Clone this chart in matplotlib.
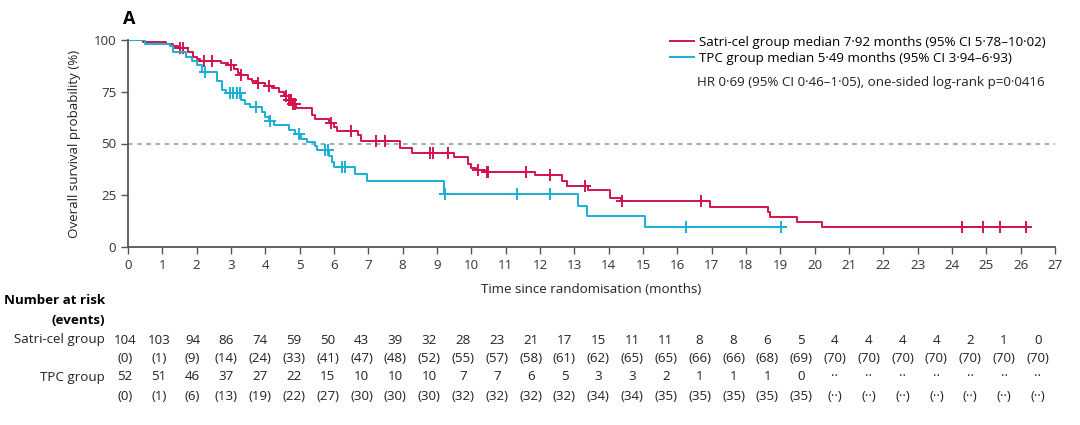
import numpy as np
import matplotlib
matplotlib.use('Agg')
import matplotlib.pyplot as plt
import matplotlib.transforms as mtransforms

plt.rcParams['font.family'] = ['Open Sans', 'DejaVu Sans']
FS = 9.6

# Satri-cel群 (赤)  生存曲線のステップ: (時間, その後の生存率)
sat_t = [0, 0.45, 1.1, 1.3, 1.45, 1.75, 1.9, 2.0, 2.1, 2.7, 2.9, 3.1, 3.2, 3.3, 3.5, 3.6, 3.75,
         4.0, 4.2, 4.4, 4.55, 4.7, 4.8, 4.9, 5.35, 5.45, 5.85, 6.0, 6.1, 6.7, 6.8, 7.92, 8.27,
         9.5, 9.9, 10.0, 10.15, 10.4, 11.86, 12.65, 12.8, 13.4, 14.04, 14.35, 16.95, 18.65,
         18.7, 19.5, 20.2]
sat_s = [100, 99, 98, 97, 96, 94, 92, 91, 90, 89, 88, 86, 84, 83, 81, 80, 79,
         78, 77, 75, 73, 71, 69, 67, 64, 62, 60, 58, 56, 54, 51, 48, 45.4,
         43.5, 40, 38, 37, 36.4, 35, 32, 29.5, 27.5, 23.8, 22.2, 19.5, 17,
         14.5, 12.1, 9.5]
sat_end = 26.2
sat_cens = [1.5, 1.6, 2.2, 2.45, 3.0, 3.3, 3.8, 4.1, 4.6, 4.7, 4.75, 4.8, 4.85, 5.9, 6.5,
            7.22, 7.5, 8.8, 8.88, 9.32, 10.2, 10.45, 10.5, 11.6, 12.3, 13.3, 14.4, 16.7,
            24.3, 24.9, 25.4, 26.15]

# TPC群 (青)
tpc_t = [0, 0.5, 1.22, 1.3, 1.7, 1.85, 2.0, 2.15, 2.6, 2.75, 2.85, 3.3, 3.4, 3.55, 3.9, 4.0,
         4.1, 4.25, 4.7, 4.85, 5.05, 5.2, 5.45, 5.5, 5.85, 5.95, 6.0, 6.6, 6.95, 9.2, 13.1,
         13.36, 15.06]
tpc_s = [100, 98, 97, 94.4, 92, 90, 88, 84.4, 80, 76, 74.2, 71, 69, 67.8, 65, 63,
         61, 59, 56.5, 54.5, 52, 50.9, 48.9, 46.9, 44, 41, 38.8, 35.3, 32, 25.6, 20,
         15, 9.8]
tpc_end = 19.1
tpc_cens = [2.24, 2.97, 3.06, 3.17, 3.26, 3.73, 4.14, 4.99, 5.74, 5.83, 6.22, 6.32, 9.23,
            11.32, 12.29, 16.24, 19.03]

# Number at risk (events)
sat_risk = ['104', '103', '94', '86', '74', '59', '50', '43', '39', '32', '28', '23', '21', '17',
            '15', '11', '11', '8', '8', '6', '5', '4', '4', '4', '4', '2', '1', '0']
sat_events = ['(0)', '(1)', '(9)', '(14)', '(24)', '(33)', '(41)', '(47)', '(48)', '(52)', '(55)',
              '(57)', '(58)', '(61)', '(62)', '(65)', '(65)', '(66)', '(66)', '(68)', '(69)',
              '(70)', '(70)', '(70)', '(70)', '(70)', '(70)', '(70)']
tpc_risk = ['52', '51', '46', '37', '27', '22', '15', '10', '10', '10', '7', '7', '6', '5', '3',
            '3', '2', '1', '1', '1', '0', '··', '··', '··', '··', '··', '··', '··']
tpc_events = ['(0)', '(1)', '(6)', '(13)', '(19)', '(22)', '(27)', '(30)', '(30)', '(30)', '(32)',
              '(32)', '(32)', '(32)', '(34)', '(34)', '(35)', '(35)', '(35)', '(35)', '(35)',
              '(··)', '(··)', '(··)', '(··)', '(··)', '(··)', '(··)']

RED = '#d3144c'
BLUE = '#1ab0d5'
GRAY = '#555555'

fig = plt.figure(figsize=(10.8, 4.25), dpi=100)
ax = fig.add_axes([128/1080, 1-247/425, (1055-128)/1080, (247-40)/425])


def draw_km(t, s, end, cens, color, label):
    t = np.array(t)
    s = np.array(s)
    ax.step(np.append(t, end), np.append(s, s[-1]), where='post', color=color, lw=1.4, label=label)
    idx = np.searchsorted(t, cens, side='right') - 1
    ax.plot(cens, s[idx], '+', color=color, ms=8, mew=1.4, ls='none')


draw_km(sat_t, sat_s, sat_end, sat_cens, RED, 'Satri-cel group median 7·92 months (95% CI 5·78–10·02)')
draw_km(tpc_t, tpc_s, tpc_end, tpc_cens, BLUE, 'TPC group median 5·49 months (95% CI 3·94–6·93)')

ax.axhline(50, color='#7d98a2', lw=1.1, ls=(0, (3, 3)), zorder=0)

ax.set_xlim(0, 27)
ax.set_ylim(0, 100)
ax.set_xticks(range(0, 28))
ax.set_yticks([0, 25, 50, 75, 100])
ax.tick_params(colors='#333333', labelsize=FS, length=5, width=1, color=GRAY)
for sp in ['top', 'right']:
    ax.spines[sp].set_visible(False)
for sp in ['left', 'bottom']:
    ax.spines[sp].set_color(GRAY)
    ax.spines[sp].set_linewidth(1.3)
ax.set_ylabel('Overall survival probability (%)', fontsize=FS, color='#222222', labelpad=9)
ax.set_xlabel('Time since randomisation (months)', fontsize=FS, color='#222222', labelpad=8)

leg = ax.legend(loc='upper left', bbox_to_anchor=(0.579, 1.045), frameon=False, fontsize=FS,
                handlelength=1.8, handletextpad=0.4, labelspacing=0.2, borderaxespad=0)
ax.text(0.614, 0.795, 'HR 0·69 (95% CI 0·46–1·05), one-sided log-rank p=0·0416',
        transform=ax.transAxes, fontsize=FS, color='#222222', va='center')

fig.text(123/1080, 1-19/425, 'A', fontsize=13, fontweight='bold', va='center', ha='left')

# リスク表
trans = mtransforms.blended_transform_factory(ax.transData, fig.transFigure)
col_x = np.linspace(-0.09, 26.5, len(sat_risk))
rows = [(sat_risk, 340), (sat_events, 358), (tpc_risk, 377), (tpc_events, 396)]
for vals, ypx in rows:
    for x, v in zip(col_x, vals):
        ax.text(x, 1-ypx/425, v, transform=trans, ha='center', va='center', fontsize=FS,
                color='#222222', clip_on=False)

fig.text(105/1080, 1-300/425, 'Number at risk', fontsize=FS, fontweight='bold', ha='right', va='center')
fig.text(105/1080, 1-320/425, '(events)', fontsize=FS, fontweight='bold', ha='right', va='center')
fig.text(105/1080, 1-340/425, 'Satri-cel group', fontsize=FS, ha='right', va='center', color='#222222')
fig.text(105/1080, 1-377/425, 'TPC group', fontsize=FS, ha='right', va='center', color='#222222')

plt.savefig('out.png', dpi=100)
